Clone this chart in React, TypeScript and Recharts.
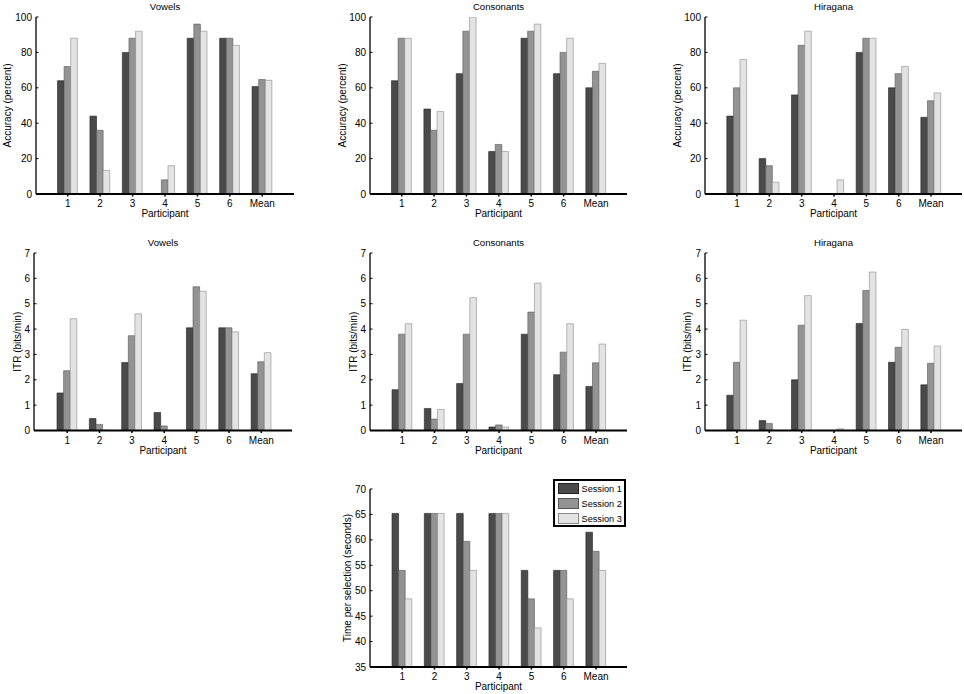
import React from 'react';
import { BarChart, Bar, XAxis, YAxis, Legend } from 'recharts';

const participants = ['1', '2', '3', '4', '5', '6', 'Mean'];
const sessionNames = ['Session 1', 'Session 2', 'Session 3'];

const vowelsAccS1 = [64, 44, 80, 0, 88, 88, 60.67];
const vowelsAccS2 = [72, 36, 88, 8, 96, 88, 64.67];
const vowelsAccS3 = [88, 13.33, 92, 16, 92, 84, 64.22];

const consAccS1 = [64, 48, 68, 24, 88, 68, 60];
const consAccS2 = [88, 36, 92, 28, 92, 80, 69.33];
const consAccS3 = [88, 46.67, 100, 24, 96, 88, 73.78];

const hiraAccS1 = [44, 20, 56, 0, 80, 60, 43.33];
const hiraAccS2 = [60, 16, 84, 0, 88, 68, 52.67];
const hiraAccS3 = [76, 6.67, 92, 8, 88, 72, 57.11];

const vowelsItrS1 = [1.48, 0.47, 2.68, 0.71, 4.05, 4.05, 2.24];
const vowelsItrS2 = [2.36, 0.24, 3.74, 0.18, 5.67, 4.05, 2.71];
const vowelsItrS3 = [4.41, 0.02, 4.6, 0, 5.49, 3.89, 3.07];

const consItrS1 = [1.61, 0.87, 1.85, 0.14, 3.8, 2.2, 1.74];
const consItrS2 = [3.8, 0.45, 3.8, 0.22, 4.67, 3.09, 2.67];
const consItrS3 = [4.21, 0.83, 5.24, 0.14, 5.81, 4.21, 3.41];

const hiraItrS1 = [1.39, 0.39, 2.0, 0, 4.22, 2.69, 1.8];
const hiraItrS2 = [2.69, 0.28, 4.15, 0, 5.52, 3.28, 2.65];
const hiraItrS3 = [4.35, 0.01, 5.32, 0.07, 6.25, 3.99, 3.33];

const timeS1 = [65.2, 65.2, 65.2, 65.2, 54.0, 54.0, 61.5];
const timeS2 = [54.0, 65.2, 59.7, 65.2, 48.4, 54.0, 57.75];
const timeS3 = [48.4, 65.2, 54.0, 65.2, 42.7, 48.4, 53.98];

const accTicks = [0, 20, 40, 60, 80, 100];
const itrTicks = [0, 1, 2, 3, 4, 5, 6, 7];
const timeTicks = [35, 40, 45, 50, 55, 60, 65, 70];

const FONT = '"Liberation Sans", Arial, Helvetica, sans-serif';
const FILLS = ['#4a4a4a', '#939393', '#e3e3e3'];
const STROKES = ['#222222', '#555555', '#8a8a8a'];

function buildRows(s1: number[], s2: number[], s3: number[]) {
  return participants.map((p, i) => ({ p, s1: s1[i], s2: s2[i], s3: s3[i] }));
}

type PanelProps = {
  left: number;
  top: number;
  plotW: number;
  plotH: number;
  padL: number;
  padR: number;
  title?: string;
  yLabel: string;
  yLabelX: number;
  ticks: number[];
  domain: [number, number];
  rows: any[];
  legend?: boolean;
};

const YTick = (props: any) => {
  const { x, y, payload } = props;
  const ax = x + 4;
  return (
    <g>
      <line x1={ax} x2={ax + 2.5} y1={y} y2={y} stroke="#000" strokeWidth={1} />
      <text x={x} y={y} textAnchor="end" dominantBaseline="central" fontSize={10} fontFamily={FONT} fill="#000">
        {payload.value}
      </text>
    </g>
  );
};

const XTick = (props: any) => {
  const { x, y, payload } = props;
  return (
    <text x={x} y={y + 4} textAnchor="middle" dominantBaseline="central" fontSize={10} fontFamily={FONT} fill="#000">
      {payload.value}
    </text>
  );
};

const LegendBox = () => (
  <div
    style={{
      border: '2px solid #000',
      background: '#fff',
      width: 69,
      height: 44,
      boxSizing: 'content-box',
      position: 'relative',
      fontFamily: FONT,
      fontSize: 9.2,
    }}
  >
    {sessionNames.map((n, i) => (
      <div key={n} style={{ position: 'absolute', left: 3, top: 2 + i * 15, height: 12, display: 'flex', alignItems: 'center' }}>
        <div style={{ width: 21, height: 11, background: FILLS[i], border: `1px solid ${STROKES[i]}`, boxSizing: 'border-box', flex: '0 0 auto' }} />
        <span style={{ marginLeft: 3, color: '#000', whiteSpace: 'nowrap', lineHeight: '12px' }}>{n}</span>
      </div>
    ))}
  </div>
);

const Panel = (pp: PanelProps) => {
  const YW = 36;
  const MT = 17;
  const XH = 26;
  const MR = 4;
  const chartLeft = pp.left - YW;
  const chartTop = pp.top - MT;
  const W = YW + pp.plotW + MR;
  const H = MT + pp.plotH + XH;
  const localLabelX = pp.yLabelX - chartLeft;
  return (
    <div style={{ position: 'absolute', left: chartLeft, top: chartTop }}>
      <BarChart
        width={W}
        height={H}
        data={pp.rows}
        margin={{ top: MT, right: MR, bottom: 0, left: 0 }}
        barSize={6.6}
        barGap={0}
      >
        {pp.title ? (
          <text x={YW + pp.plotW / 2} y={6} textAnchor="middle" dominantBaseline="central" fontSize={9.6} fontFamily={FONT} fill="#000">
            {pp.title}
          </text>
        ) : null}
        <XAxis
          dataKey="p"
          height={XH}
          padding={{ left: pp.padL, right: pp.padR }}
          axisLine={{ stroke: '#000', strokeWidth: 2 }}
          tickLine={{ stroke: '#000', strokeWidth: 1.5 }}
          tickSize={2.5}
          tickMargin={3}
          tick={<XTick />}
          interval={0}
          label={{
            value: 'Participant',
            content: (lp: any) => {
              const vb = lp.viewBox || {};
              return (
                <text x={vb.x + vb.width / 2} y={vb.y + 19.5} textAnchor="middle" dominantBaseline="central" fontSize={10} fontFamily={FONT} fill="#000">
                  Participant
                </text>
              );
            },
          }}
        />
        <YAxis
          width={YW}
          type="number"
          domain={pp.domain}
          ticks={pp.ticks}
          allowDataOverflow
          axisLine={{ stroke: '#000', strokeWidth: 1.3 }}
          tickLine={false}
          tickSize={0}
          tickMargin={4}
          tick={<YTick />}
          interval={0}
          label={{
            value: pp.yLabel,
            content: (lp: any) => {
              const vb = lp.viewBox || {};
              const cy = vb.y + vb.height / 2;
              return (
                <text
                  x={localLabelX}
                  y={cy}
                  transform={`rotate(-90, ${localLabelX}, ${cy})`}
                  textAnchor="middle"
                  dominantBaseline="central"
                  fontSize={10}
                  fontFamily={FONT}
                  fill="#000"
                >
                  {pp.yLabel}
                </text>
              );
            },
          }}
        />
        {pp.legend ? (
          <Legend
            layout="horizontal"
            verticalAlign="middle"
            align="center"
            wrapperStyle={{ left: 219, top: 7, width: 'auto', height: 'auto' }}
            content={() => <LegendBox />}
          />
        ) : null}
        <Bar dataKey="s1" name={sessionNames[0]} fill={FILLS[0]} stroke={STROKES[0]} strokeWidth={0.6} isAnimationActive={false} />
        <Bar dataKey="s2" name={sessionNames[1]} fill={FILLS[1]} stroke={STROKES[1]} strokeWidth={0.6} isAnimationActive={false} />
        <Bar dataKey="s3" name={sessionNames[2]} fill={FILLS[2]} stroke={STROKES[2]} strokeWidth={0.6} isAnimationActive={false} />
      </BarChart>
    </div>
  );
};

export default function App() {
  return (
    <div style={{ position: 'absolute', left: 0, top: 0, width: 964, height: 694, background: '#fff', overflow: 'hidden' }}>
      <Panel left={36} top={17} plotW={258} plotH={177} padL={15.5} padR={15.5} title="Vowels" yLabel="Accuracy (percent)" yLabelX={7.5} ticks={accTicks} domain={[0, 100]} rows={buildRows(vowelsAccS1, vowelsAccS2, vowelsAccS3)} />
      <Panel left={370} top={17} plotW={257} plotH={177} padL={15.5} padR={14.8} title="Consonants" yLabel="Accuracy (percent)" yLabelX={342.5} ticks={accTicks} domain={[0, 100]} rows={buildRows(consAccS1, consAccS2, consAccS3)} />
      <Panel left={705} top={17} plotW={257} plotH={177} padL={15.8} padR={14.8} title="Hiragana" yLabel="Accuracy (percent)" yLabelX={677.5} ticks={accTicks} domain={[0, 100]} rows={buildRows(hiraAccS1, hiraAccS2, hiraAccS3)} />
      <Panel left={34} top={253} plotW={258} plotH={177.5} padL={17} padR={14.5} title="Vowels" yLabel="ITR (bits/min)" yLabelX={17.5} ticks={itrTicks} domain={[0, 7]} rows={buildRows(vowelsItrS1, vowelsItrS2, vowelsItrS3)} />
      <Panel left={369.5} top={253} plotW={257} plotH={177.5} padL={16} padR={14.8} title="Consonants" yLabel="ITR (bits/min)" yLabelX={352.5} ticks={itrTicks} domain={[0, 7]} rows={buildRows(consItrS1, consItrS2, consItrS3)} />
      <Panel left={705} top={253} plotW={257} plotH={177.5} padL={15.8} padR={14.8} title="Hiragana" yLabel="ITR (bits/min)" yLabelX={687.5} ticks={itrTicks} domain={[0, 7]} rows={buildRows(hiraItrS1, hiraItrS2, hiraItrS3)} />
      <Panel left={369.5} top={488.5} plotW={257} plotH={178} padL={16} padR={14.8} yLabel="Time per selection (seconds)" yLabelX={347} ticks={timeTicks} domain={[35, 70]} rows={buildRows(timeS1, timeS2, timeS3)} legend />
    </div>
  );
}
